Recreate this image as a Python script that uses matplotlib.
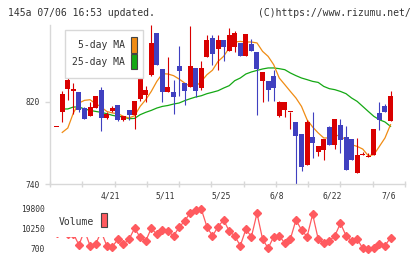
import numpy as np
import matplotlib
matplotlib.use("Agg")
import matplotlib.pyplot as plt
from matplotlib.patches import Rectangle


# daily candles, oldest first
opens = [796, 810, 833, 831, 830, 814, 806, 814, 832, 804,
         811, 817, 802, 812.5, 807, 823, 827, 846.6, 887, 852,
         830, 830, 855, 839, 835, 853, 833.6, 863.5, 882, 871.7,
         880.8, 870, 874, 878, 864.5, 877, 869, 840.8, 840.8, 845,
         806, 812.5, 810.2, 800.8, 789, 758.2, 786, 770.8, 772.8, 795.2,
         778.3, 798, 786, 784.2, 750.3, 768.6, 766, 768, 809.3, 816.4,
         801]
highs = [796, 831, 848, 839, 830, 815, 820, 826, 835, 810,
         816, 817, 806, 812.5, 821, 869, 836, 895, 887, 852,
         864, 841, 875, 839, 894, 853, 860, 885.7, 885.7, 885.7,
         880.8, 892, 889.6, 878, 886.6, 881.5, 869, 849, 840.8, 851.5,
         820.6, 820.3, 810.2, 800.8, 789, 802.7, 810.5, 776.7, 784.2, 796.2,
         803.7, 803.7, 797, 784.2, 785.2, 770.8, 770.2, 794, 820.3, 817.7,
         830.3]
lows = [796, 800, 822, 808, 810, 803.4, 806, 814, 792, 803,
        810, 801, 801, 802, 794, 820.6, 820, 845.7, 856, 819.6,
        830, 808, 825.5, 817.4, 835, 825, 832, 863.5, 855.7, 850.8,
        859.6, 870, 868.4, 864.5, 864.5, 869.4, 807.6, 819.6, 821.3, 821.3,
        805, 805, 794, 740, 752.3, 758.2, 765, 767, 763, 778.3,
        774.4, 770, 753.3, 763, 750.3, 768.6, 766, 768, 793, 810,
        801]
closes = [796, 828, 841, 833, 812.5, 803.4, 815, 826, 804, 808.6,
          814.4, 802, 806, 807, 821, 842.4, 832, 877.6, 856, 829.4,
          834.6, 824.5, 850, 830.3, 855.4, 830.3, 853, 880.8, 867, 880.8,
          873.3, 885, 887.3, 864.5, 886.6, 869.4, 852.5, 849, 832, 833.6,
          819.6, 820.3, 810.2, 787, 756.2, 800.8, 779.6, 776.7, 784.2, 778.3,
          803.7, 783.2, 753.3, 763, 768.6, 768.6, 766, 794, 802.7, 810,
          826.1]

ma5 = [np.nan, 790.3, 794.6, 809.3, 819, 821.6, 822.2, 818.3, 815.1, 810.8,
       809.3, 808.6, 806, 804.4, 806.6, 815.7, 822.2, 830.3, 840.1, 847.6,
       847.3, 845.7, 842.4, 838.5, 835.2, 835.2, 840.1, 846.6, 851, 859.6,
       864.5, 872.7, 878.5, 879.1, 878.5, 878.5, 877.6, 869.4, 864.5, 856.4,
       843.4, 836.9, 830.3, 823.9, 815.7, 802.7, 795.6, 789.8, 784.9, 784.9,
       788.1, 786.4, 783.2, 778.3, 776.7, 774.1, 767.6, 768.6, 776.7, 784.9,
       797.9]
ma25 = [np.nan, 813.2, 813.2, 815.1, 815.1, 813.2, 811.8, 810.8, 809.9, 808.6,
        807, 806, 805.4, 803.7, 804, 807.6, 809.9, 811.8, 814.1, 815.7,
        816.6, 818, 819, 821.3, 823.2, 824.9, 826.1, 828.1, 829.5, 831,
        833.6, 835.9, 840.8, 843.4, 847.3, 849.3, 850.8, 852.2, 853.2, 853.2,
        852.5, 851.5, 848.3, 845.7, 843.4, 841.8, 840.1, 839.1, 835.2, 833,
        832, 830.3, 828.1, 823.9, 820.6, 815.7, 810.8, 806, 802.7, 800.5,
        796.2]

volume = [8500, 9000, 8000, 8000, 2610, 9500, 2276, 2944, 9000, 2276,
          1798, 5332, 2944, 5332, 10584, 6287, 4520, 10584, 7719, 9773,
          9295, 6908, 11062, 14070, 18033, 19323, 19657, 11348, 6908, 11348,
          14548, 9295, 6908, 2276, 10107, 6573, 17747, 5475, 1034, 6573,
          7051, 3422, 5475, 14548, 9773, 6573, 17269, 5475, 3422, 4520,
          7051, 12972, 7051, 4520, 5475, 1034, 700, 1321, 2944, 2276,
          6096]

date_labels = ["4/21", "5/11", "5/25", "6/8", "6/22", "7/6"]
date_idx = [10, 20, 30, 40, 50, 60]

RED = "#d90000"
BLUE = "#4040c0"
ORANGE = "#f08c14"
GREEN = "#14a814"
VOLC = "#ff5a5f"
GRID = "#d8d8d8"
TXT = "#333333"

W, H = 420, 259


def fx(px):
    return px / W


def fy(py):
    return 1 - py / H


def box(x0, y0, x1, y1, **kw):
    # rectangle given in pixel coords (top-left origin)
    r = Rectangle((fx(x0), fy(y1)), fx(x1) - fx(x0), fy(y0) - fy(y1),
                  transform=fig.transFigure, **kw)
    fig.add_artist(r)


plt.rcParams["font.family"] = "DejaVu Sans Mono"

fig = plt.figure(figsize=(W / 100, H / 100), dpi=100)

# main price panel
ax = fig.add_axes([fx(50), fy(184), 355 / W, 159 / H])
x = np.arange(len(closes))
o = np.array(opens)
c = np.array(closes)
colors = np.where(c >= o, RED, BLUE)

ax.plot(x, ma25, color=GREEN, lw=0.9, zorder=1.5)
ax.plot(x, ma5, color=ORANGE, lw=0.9, zorder=1.5)
ax.vlines(x, lows, highs, colors=colors, lw=0.8, zorder=2)
ax.bar(x, np.maximum(np.abs(c - o), 1.0), bottom=np.minimum(o, c),
       width=0.9, color=colors, zorder=3)

ax.set_xlim(-1.2, 62.6)
ax.set_ylim(740, 895.1)
for s in ["top", "right"]:
    ax.spines[s].set_visible(False)
for s in ["left", "bottom"]:
    ax.spines[s].set_color(GRID)
    ax.spines[s].set_linewidth(1.0)

ax.set_yticks([820, 740])
ax.tick_params(axis="y", length=3.6, width=1.0, color=GRID, pad=4,
               labelsize=5.7, labelcolor=TXT)
ax.set_xticks(np.linspace(-1.2, 62.6, 12))
ax.tick_params(axis="x", direction="inout", length=4.5, width=1.0,
               color=GRID, labelbottom=False)

# MA legend
box(65, 30, 143.3, 77.7, facecolor="white", edgecolor=GRID, lw=1.0)
fig.text(fx(124.5), fy(45.5), "5-day MA", fontsize=7, color=TXT, ha="right", va="center")
fig.text(fx(124.5), fy(62), "25-day MA", fontsize=7, color=TXT, ha="right", va="center")
box(131, 37.3, 137.3, 52.7, facecolor=ORANGE, edgecolor="#444444", lw=0.8)
box(131, 54, 137.3, 69.3, facecolor=GREEN, edgecolor="#444444", lw=0.8)

# volume panel
axv = fig.add_axes([fx(50), fy(253), 355 / W, 48 / H])
axv.plot(x, volume, color=VOLC, lw=0.9, marker="D", ms=4.5, mec=VOLC, zorder=2)
axv.set_xlim(-1.2, 62.6)
axv.set_ylim(-1210, 21710)
for s in axv.spines.values():
    s.set_visible(False)
axv.set_yticks([700, 10250, 19800])
axv.tick_params(axis="y", length=0, pad=4, labelsize=5.7, labelcolor=TXT)
axv.xaxis.tick_top()
axv.set_xticks([i - 0.4 for i in date_idx], date_labels)
axv.tick_params(axis="x", length=0, pad=3, labelsize=5.8, labelcolor=TXT)

# volume legend (white box hides the points behind it)
box(49, 203, 115, 237, facecolor="white", edgecolor="none")
fig.text(fx(59), fy(222), "Volume", fontsize=7, color=TXT, ha="left", va="center")
box(101, 213, 107, 227, facecolor=VOLC, edgecolor="#444444", lw=0.8)

fig.text(fx(8), fy(12.5), "145a 07/06 16:53 updated.", fontsize=7,
         color=TXT, va="center", ha="left")
fig.text(fx(411), fy(12.5), "(C)https://www.rizumu.net/", fontsize=7,
         color=TXT, va="center", ha="right")

fig.savefig("out.png", dpi=100)
